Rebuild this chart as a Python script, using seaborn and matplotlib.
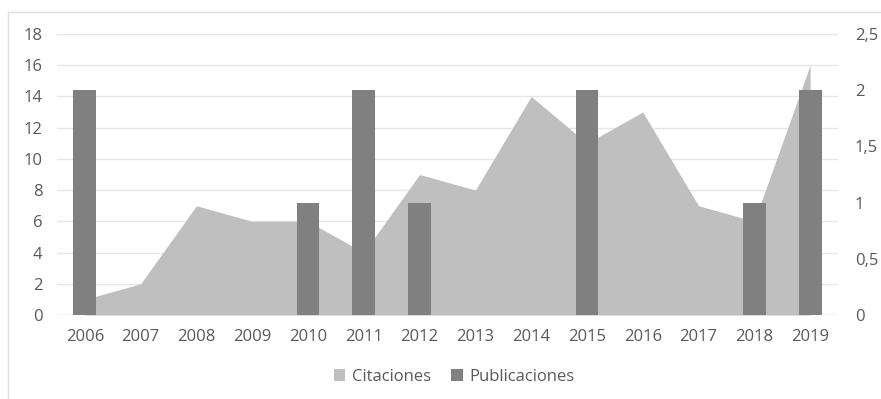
import matplotlib
matplotlib.use("Agg")
import matplotlib.pyplot as plt
from matplotlib.patches import Patch
from matplotlib.lines import Line2D
import seaborn as sns
import pandas as pd
import numpy as np

years = ["2006", "2007", "2008", "2009", "2010", "2011", "2012",
         "2013", "2014", "2015", "2016", "2017", "2018", "2019"]
citaciones = [1, 2, 7, 6, 6, 4, 9, 8, 14, 11, 13, 7, 6, 16]
publicaciones = [2, 0, 0, 0, 1, 2, 1, 0, 0, 2, 0, 0, 1, 2]
left_ticks = [0, 2, 4, 6, 8, 10, 12, 14, 16, 18]
right_ticks = [0, 0.5, 1, 1.5, 2, 2.5]
right_labels = ["0", "0,5", "1", "1,5", "2", "2,5"]

sns.set_theme(style="white")
plt.rcParams["font.family"] = ["Open Sans", "DejaVu Sans"]

text_col = "#595959"
area_col = "#bfbfbf"
bar_col = "#808080"

df = pd.DataFrame({"year": years, "cit": citaciones, "pub": publicaciones})

fig = plt.figure(figsize=(8.81, 3.99), dpi=100)
ax = fig.add_axes([57 / 881, 84 / 399, 781 / 881, 281 / 399])

x = np.arange(len(years))
ax.fill_between(x, df["cit"], 0, color=area_col, linewidth=0, zorder=2)
ax.set_ylim(0, 18)
ax.set_xlim(-0.5, len(years) - 0.5)
ax.set_yticks(left_ticks)
ax.yaxis.grid(True, color="#e6e6e6", linewidth=1)
ax.set_axisbelow(True)
ax.set_xticks(x)
ax.set_xticklabels(years)

ax2 = ax.twinx()
sns.barplot(data=df, x="year", y="pub", ax=ax2, color=bar_col,
            width=0.41, saturation=1, linewidth=0, zorder=3)
ax2.set_ylim(0, 2.5)
ax2.set_xlim(-0.5, len(years) - 0.5)
ax2.set_yticks(right_ticks)
ax2.set_yticklabels(right_labels)
ax2.set_xlabel("")
ax2.set_ylabel("")
ax.set_xlabel("")
ax.set_ylabel("")

for a in (ax, ax2):
    for s in a.spines.values():
        s.set_visible(False)
    a.tick_params(length=0, colors=text_col, labelsize=12)
ax.tick_params(axis="y", pad=10.5)
ax.tick_params(axis="x", pad=10)
ax2.tick_params(axis="y", pad=12)
ax.axhline(0, color="#d9d9d9", linewidth=1, zorder=1)

handles = [Patch(facecolor=area_col, edgecolor="none", label="Citaciones"),
           Patch(facecolor=bar_col, edgecolor="none", label="Publicaciones")]
leg = fig.legend(handles=handles, loc="center", bbox_to_anchor=(454 / 881, 1 - 377 / 399),
                 ncol=2, frameon=False, fontsize=12, handlelength=0.7, handleheight=0.7,
                 handletextpad=0.4, columnspacing=1.2)
for t in leg.get_texts():
    t.set_color(text_col)

# outer chart border (top and left visible)
fig.add_artist(Line2D([8 / 881, 1], [1 - 12 / 399, 1 - 12 / 399], color="#e0e0e0", linewidth=1))
fig.add_artist(Line2D([8 / 881, 8 / 881], [0, 1 - 12 / 399], color="#e0e0e0", linewidth=1))

fig.savefig("out.png", dpi=100)
